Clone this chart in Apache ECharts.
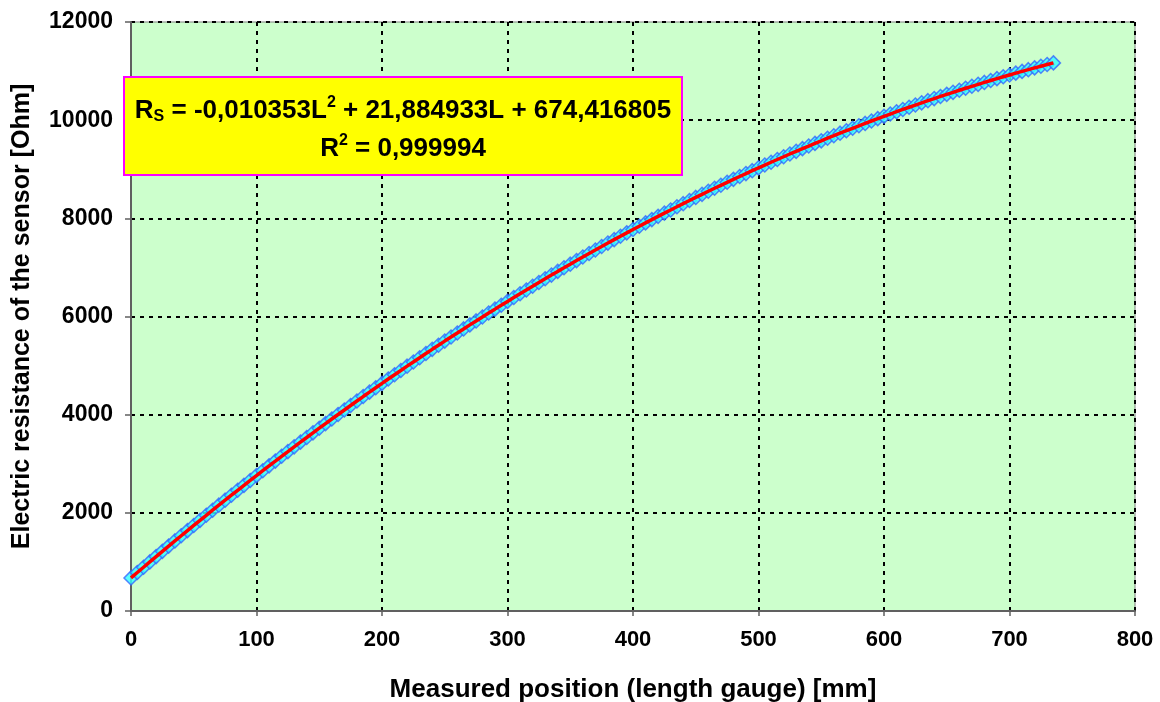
<!DOCTYPE html>
<html>
<head>
<meta charset="utf-8">
<script src="https://cdn.jsdelivr.net/npm/echarts@6/dist/echarts.min.js"></script>
<style>
  html, body { margin: 0; padding: 0; background: #fff; }
  #chart { width: 1160px; height: 702px; }
</style>
</head>
<body>
<div id="chart"></div>
<script>
// measured position [mm]
var positions = [
  0, 5, 10, 15, 20, 25, 30, 35, 40, 45, 50, 55, 60, 65, 70, 75, 80, 85, 90, 95,
  100, 105, 110, 115, 120, 125, 130, 135, 140, 145, 150, 155, 160, 165, 170, 175, 180, 185, 190, 195,
  200, 205, 210, 215, 220, 225, 230, 235, 240, 245, 250, 255, 260, 265, 270, 275, 280, 285, 290, 295,
  300, 305, 310, 315, 320, 325, 330, 335, 340, 345, 350, 355, 360, 365, 370, 375, 380, 385, 390, 395,
  400, 405, 410, 415, 420, 425, 430, 435, 440, 445, 450, 455, 460, 465, 470, 475, 480, 485, 490, 495,
  500, 505, 510, 515, 520, 525, 530, 535, 540, 545, 550, 555, 560, 565, 570, 575, 580, 585, 590, 595,
  600, 605, 610, 615, 620, 625, 630, 635, 640, 645, 650, 655, 660, 665, 670, 675, 680, 685, 690, 695,
  700, 705, 710, 715, 720, 725, 730, 735
];
// electric resistance [Ohm]
var resistance = [
  674, 784, 892, 1000, 1108, 1215, 1322, 1428, 1533, 1638, 1743, 1847, 1950, 2053, 2156, 2258, 2359, 2460, 2560, 2660,
  2759, 2858, 2957, 3054, 3152, 3248, 3345, 3440, 3535, 3630, 3724, 3818, 3911, 4004, 4096, 4187, 4278, 4369, 4459, 4548,
  4637, 4726, 4814, 4901, 4988, 5074, 5160, 5246, 5331, 5415, 5499, 5582, 5665, 5747, 5829, 5910, 5991, 6071, 6150, 6230,
  6308, 6386, 6464, 6541, 6617, 6694, 6769, 6844, 6919, 6992, 7066, 7139, 7211, 7283, 7355, 7425, 7496, 7566, 7635, 7704,
  7772, 7840, 7907, 7974, 8040, 8106, 8171, 8235, 8299, 8363, 8426, 8489, 8551, 8612, 8673, 8734, 8794, 8853, 8912, 8971,
  9029, 9086, 9143, 9199, 9255, 9311, 9365, 9420, 9473, 9527, 9579, 9632, 9683, 9735, 9785, 9835, 9885, 9934, 9983, 10031,
  10078, 10125, 10172, 10218, 10263, 10308, 10353, 10397, 10440, 10483, 10526, 10567, 10609, 10650, 10690, 10730, 10769, 10808, 10846, 10884,
  10921, 10958, 10994, 11029, 11065, 11099, 11133, 11167
];
var xTicks = [0, 100, 200, 300, 400, 500, 600, 700, 800];
var yTicks = [0, 2000, 4000, 6000, 8000, 10000, 12000];

var chart = echarts.init(document.getElementById('chart'));

var points = [];
for (var i = 0; i < positions.length; i++) {
  points.push([positions[i], resistance[i]]);
}

var font = '"Liberation Sans", Arial, sans-serif';
var gridLine = { show: true, lineStyle: { color: '#000', width: 2, type: [4, 5] } };

var option = {
  backgroundColor: '#fff',
  animation: false,
  grid: {
    left: 131, right: 25, top: 22, bottom: 91,
    outerBoundsMode: 'none',
    show: true, backgroundColor: '#CCFFCC', borderColor: '#808080', borderWidth: 1
  },
  xAxis: {
    type: 'value',
    min: xTicks[0], max: xTicks[xTicks.length - 1], interval: 100,
    name: 'Measured position (length gauge) [mm]',
    nameLocation: 'middle', nameGap: 66,
    nameTextStyle: { fontFamily: font, fontWeight: 'bold', fontSize: 26, color: '#000' },
    axisLine: { show: true, lineStyle: { color: '#606060', width: 2 } },
    axisTick: { show: true, length: 5, lineStyle: { color: '#606060', width: 1.5 } },
    axisLabel: {
      fontFamily: font, fontWeight: 'bold', fontSize: 22, color: '#000', margin: 18,
      formatter: function (v) { return String(v); }
    },
    splitLine: gridLine
  },
  yAxis: {
    type: 'value',
    min: yTicks[0], max: yTicks[yTicks.length - 1], interval: 2000,
    name: 'Electric resistance of the sensor [Ohm]',
    nameLocation: 'middle', nameGap: 96,
    nameTextStyle: { fontFamily: font, fontWeight: 'bold', fontSize: 25, color: '#000' },
    axisLine: { show: true, lineStyle: { color: '#606060', width: 2 } },
    axisTick: { show: true, length: 6, lineStyle: { color: '#606060', width: 1.5 } },
    axisLabel: {
      fontFamily: font, fontWeight: 'bold', fontSize: 23, color: '#000', margin: 18,
      formatter: function (v) { return String(v); }
    },
    splitLine: gridLine
  },
  series: [
    {
      name: 'measured',
      type: 'scatter',
      data: points,
      symbol: 'diamond',
      symbolSize: 14,
      itemStyle: { color: '#33FFFF', borderColor: '#3366FF', borderWidth: 1.5 },
      z: 3
    },
    {
      name: 'fit',
      type: 'line',
      data: points,
      showSymbol: false,
      lineStyle: { color: '#FF0000', width: 3.5 },
      z: 4
    }
  ],
  graphic: [
    {
      type: 'rect',
      shape: { x: 124, y: 77, width: 558, height: 98 },
      style: { fill: '#FFFF00', stroke: '#FF00FF', lineWidth: 2 },
      z: 10
    },
    {
      type: 'text',
      x: 403, y: 111,
      style: {
        text: '{m|R}{sub|S}{m| = -0,010353L}{sup|2}{m| + 21,884933L + 674,416805}',
        align: 'center', verticalAlign: 'middle',
        rich: {
          m: { fontFamily: font, fontWeight: 'bold', fontSize: 26, color: '#000', lineHeight: 34, verticalAlign: 'middle' },
          sub: { fontFamily: font, fontWeight: 'bold', fontSize: 16, color: '#000', lineHeight: 34, verticalAlign: 'bottom', padding: [0, 0, 3, 0] },
          sup: { fontFamily: font, fontWeight: 'bold', fontSize: 16, color: '#000', lineHeight: 34, verticalAlign: 'top', padding: [1, 0, 0, 0] }
        }
      },
      z: 11
    },
    {
      type: 'text',
      x: 403, y: 149,
      style: {
        text: '{m|R}{sup|2}{m| = 0,999994}',
        align: 'center', verticalAlign: 'middle',
        rich: {
          m: { fontFamily: font, fontWeight: 'bold', fontSize: 26, color: '#000', lineHeight: 34, verticalAlign: 'middle' },
          sup: { fontFamily: font, fontWeight: 'bold', fontSize: 16, color: '#000', lineHeight: 34, verticalAlign: 'top', padding: [1, 0, 0, 0] }
        }
      },
      z: 11
    }
  ]
};

chart.setOption(option);
window.onresize = chart.resize;
</script>
</body>
</html>
